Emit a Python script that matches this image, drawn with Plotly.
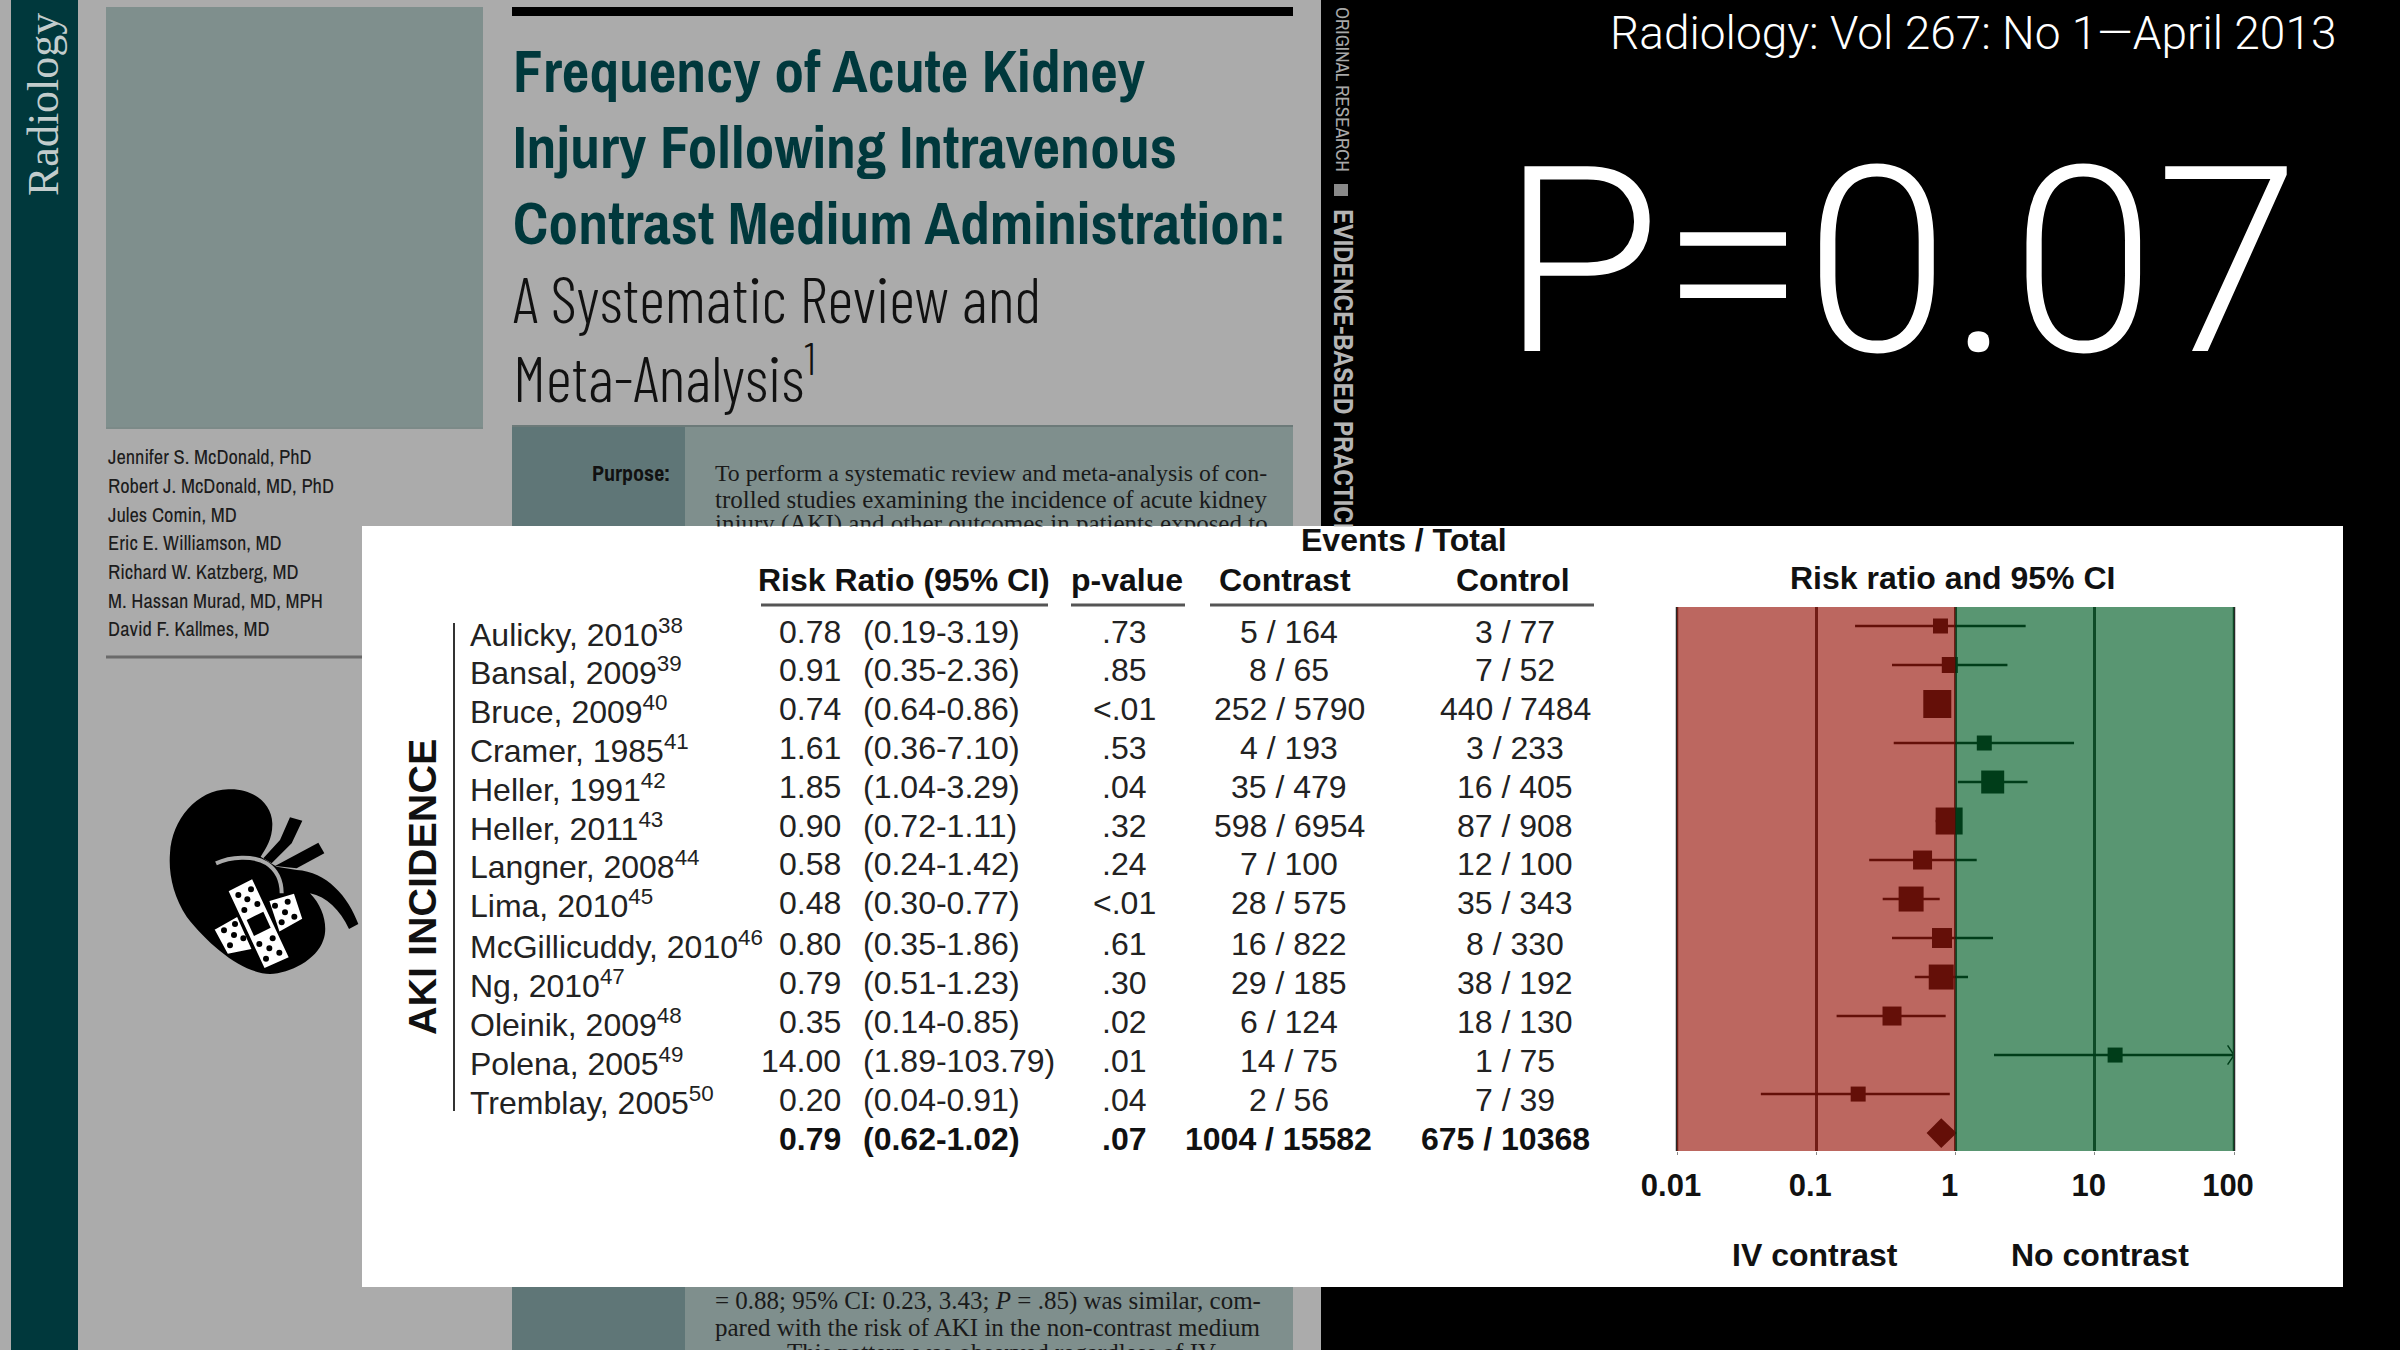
import plotly.graph_objects as go

# ---------- data ----------
studies = ["Aulicky, 2010", "Bansal, 2009", "Bruce, 2009", "Cramer, 1985", "Heller, 1991", "Heller, 2011",
           "Langner, 2008", "Lima, 2010", "McGillicuddy, 2010", "Ng, 2010", "Oleinik, 2009", "Polena, 2005",
           "Tremblay, 2005"]
refs = [38, 39, 40, 41, 42, 43, 44, 45, 46, 47, 48, 49, 50]
rr = [0.78, 0.91, 0.74, 1.61, 1.85, 0.90, 0.58, 0.48, 0.80, 0.79, 0.35, 14.00, 0.20]
ci_low = [0.19, 0.35, 0.64, 0.36, 1.04, 0.72, 0.24, 0.30, 0.35, 0.51, 0.14, 1.89, 0.04]
ci_high = [3.19, 2.36, 0.86, 7.10, 3.29, 1.11, 1.42, 0.77, 1.86, 1.23, 0.85, 103.79, 0.91]
p_values = [".73", ".85", "<.01", ".53", ".04", ".32", ".24", "<.01", ".61", ".30", ".02", ".01", ".04"]
contrast_events = ["5 / 164", "8 / 65", "252 / 5790", "4 / 193", "35 / 479", "598 / 6954", "7 / 100", "28 / 575",
                   "16 / 822", "29 / 185", "6 / 124", "14 / 75", "2 / 56"]
control_events = ["3 / 77", "7 / 52", "440 / 7484", "3 / 233", "16 / 405", "87 / 908", "12 / 100", "35 / 343",
                  "8 / 330", "38 / 192", "18 / 130", "1 / 75", "7 / 39"]
study_weight = [15, 16, 28, 15, 23, 27, 19, 25, 20, 25, 19, 15, 15]
pooled_rr = 0.79
pooled_low = 0.62
pooled_high = 1.02
pooled_p = ".07"
pooled_contrast = "1004 / 15582"
pooled_control = "675 / 10368"
axis_ticks = [0.01, 0.1, 1, 10, 100]
axis_labels = ["0.01", "0.1", "1", "10", "100"]
title_bold = ["Frequency of Acute Kidney", "Injury Following Intravenous", "Contrast Medium Administration:"]
authors = ["Jennifer S. McDonald, PhD", "Robert J. McDonald, MD, PhD", "Jules Comin, MD", "Eric E. Williamson, MD",
           "Richard W. Katzberg, MD", "M. Hassan Murad, MD, MPH", "David F. Kallmes, MD"]

W, H = 2400, 1350
SANS, SERIF = "Liberation Sans", "Liberation Serif"
NARROW = "Archivo Narrow, Roboto Condensed, Liberation Sans"
THIN = "Barlow Condensed, Roboto Condensed, Liberation Sans"
fx = lambda x: x / W
fy = lambda y: 1 - y / H
shapes, notes = [], []


def rect(x0, y0, x1, y1, color):
    shapes.append(dict(type="rect", xref="paper", yref="paper", x0=fx(x0), x1=fx(x1), y0=fy(y1), y1=fy(y0),
                       fillcolor=color, line_width=0, layer="below"))


def hline(x0, x1, y, color, w=2):
    shapes.append(dict(type="line", xref="paper", yref="paper", x0=fx(x0), x1=fx(x1), y0=fy(y), y1=fy(y),
                       line=dict(color=color, width=w), layer="below"))


def note(x, y, text, size, color="#222222", family=SANS, anchor="center", angle=0, weight=None, **kw):
    font = dict(size=size, color=color, family=family)
    if weight:
        font["weight"] = weight
    notes.append(dict(x=fx(x), y=fy(y), xref="paper", yref="paper", text=text, showarrow=False, xanchor=anchor,
                      yanchor="middle", textangle=angle, font=font, **kw))


# ---------- journal page behind the table ----------
PAGE, TEAL, BLOCK, CELL = "#ababab", "#00383c", "#7f8f8d", "#5f7677"
rect(0, 0, 1321, H, PAGE)
rect(11, 0, 78, H, TEAL)
rect(106, 7, 483, 428, BLOCK)
rect(512, 7, 1293, 16, "#000000")
rect(512, 426, 1293, H, BLOCK)
rect(512, 426, 685, H, CELL)
hline(512, 1293, 426, "#6c7a79", 2)
hline(106, 483, 428, "#7c8a88", 2)
hline(106, 362, 657, "#6a6a6a", 3)
rect(1334, 184, 1348, 196, "#8a8a8a")

note(44, 105, "Radiology", 44, "#c2cccc", SERIF, angle=-90)
for i, t in enumerate(title_bold):
    note(511, 70.5 + 76 * i, "<b>%s</b>" % t, 59.7, TEAL, NARROW, "left")
note(511, 298, "A Systematic Review and", 64, "#111111", THIN, "left", weight=300)
note(511, 373, "Meta-Analysis<sup>1</sup>", 64, "#111111", THIN, "left", weight=300)
for i, t in enumerate(authors):
    note(106, 457 + 28.6 * i, t, 20.5, "#1c1c1c", NARROW, "left")
note(672, 473, "<b>Purpose:</b>", 22, "#111111", NARROW, "right")
note(713, 473, "To perform a systematic review and meta-analysis of con-", 23.8, "#1a1a1a", SERIF, "left")
note(713, 499, "trolled studies examining the incidence of acute kidney", 25, "#1a1a1a", SERIF, "left")
note(713, 524, "injury (AKI) and other outcomes in patients exposed to", 25, "#1a1a1a", SERIF, "left")
note(713, 1301, "= 0.88; 95% CI: 0.23, 3.43; <i>P</i> = .85) was similar, com-", 25, "#1a1a1a", SERIF, "left")
note(713, 1327, "pared with the risk of AKI in the non-contrast medium", 25, "#1a1a1a", SERIF, "left")
note(785, 1353, "This pattern was observed regardless of IV", 25, "#1a1a1a", SERIF, "left")
note(1343, 89, "ORIGINAL RESEARCH", 19, "#a8a8a8", NARROW, angle=90)
note(1344, 373, "<b>EVIDENCE-BASED PRACTICE</b>", 28, "#b4b4b4", NARROW, angle=90)
# the white panel hides the lower part of the text that runs into it
notes.append(dict(x=fx(700), y=fy(526), xref="paper", yref="paper", text=" ", showarrow=False, xanchor="left",
                  yanchor="top", width=680, height=60, bgcolor="#ffffff", borderpad=0))

# ---------- right-hand slide text ----------
note(2338, 33, "Radiology: Vol 267: No 1—April 2013", 46, "#ffffff", "Roboto Light, Roboto", "right")
note(1900, 262, "P=0.07", 260, "#ffffff", "Roboto Light, Roboto")

# ---------- white panel ----------
rect(362, 526, 2343, 1287, "#ffffff")

# ---------- kidney icon ----------
kx = lambda v: 140 + v / 3
ky = lambda v: 760 + v / 3


def kpath(cmds, close=True):
    out = []
    for c, pts in cmds:
        if c == "L":
            out.extend("L%.5f,%.5f" % (fx(kx(a)), fy(ky(b))) for a, b in pts)
        else:
            out.append(c + " ".join("%.5f,%.5f" % (fx(kx(a)), fy(ky(b))) for a, b in pts))
    return " ".join(out) + (" Z" if close else "")


def kshape(cmds, fill="#000000", line=None, w=0, close=True):
    s = dict(type="path", xref="paper", yref="paper", path=kpath(cmds, close), layer="below",
             line=dict(width=w, color=line or fill))
    if close:
        s["fillcolor"] = fill
    shapes.append(s)


kshape([("M", [(265, 88)]), ("C", [(340, 85), (395, 130), (397, 190)]), ("C", [(398, 235), (378, 265), (362, 290)]),
        ("L", [(410, 320), (470, 330)]), ("C", [(560, 335), (625, 410), (655, 492)]), ("L", [(627, 507)]),
        ("C", [(600, 450), (560, 410), (510, 400)]), ("C", [(550, 440), (565, 500), (550, 540)]),
        ("C", [(530, 600), (450, 640), (390, 642)]), ("C", [(310, 640), (210, 560), (140, 470)]),
        ("C", [(100, 410), (85, 340), (90, 280)]), ("C", [(95, 180), (170, 90), (265, 88)])])
kshape([("M", [(450, 172)]), ("L", [(487, 182), (455, 250), (395, 310), (370, 295), (420, 240)])])
kshape([("M", [(535, 248)]), ("L", [(553, 280), (470, 325), (405, 318)])])
kshape([("M", [(228, 310)]), ("C", [(270, 290), (340, 285), (380, 310)]), ("C", [(410, 330), (425, 360), (425, 400)])],
       fill=PAGE, line=PAGE, w=4, close=False)
for poly in ([(228, 510), (290, 475), (330, 565), (265, 578)], [(392, 425), (460, 405), (483, 475), (420, 510)],
             [(270, 395), (335, 362), (442, 590), (375, 620)]):
    kshape([("M", [poly[0]]), ("L", poly[1:])], fill="#ffffff", line="#ffffff", w=2)
kshape([("M", [(320, 480)]), ("L", [(370, 455), (392, 503), (342, 528)])])
dots = [(295, 405), (333, 388), (322, 418), (352, 432), (313, 450), (398, 535), (358, 552), (388, 565), (418, 578),
        (378, 596), (252, 511), (282, 525), (270, 556), (285, 492), (310, 535), (443, 425), (405, 437), (435, 457),
        (463, 470), (425, 487)]
for a, b in dots:
    shapes.append(dict(type="circle", xref="paper", yref="paper", x0=fx(kx(a - 9)), x1=fx(kx(a + 9)),
                       y0=fy(ky(b + 9)), y1=fy(ky(b - 9)), fillcolor="#000000", line_width=0, layer="below"))

# ---------- table ----------
note(422, 887, "<b>AKI INCIDENCE</b>", 39.5, "#111111", angle=-90)
shapes.append(dict(type="line", xref="paper", yref="paper", x0=fx(454), x1=fx(454), y0=fy(623), y1=fy(1111),
                   line=dict(color="#333333", width=2), layer="below"))
HEAD = 32
note(904, 580, "<b>Risk Ratio (95% CI)</b>", HEAD, "#111111")
note(1127, 580, "<b>p-value</b>", HEAD, "#111111")
note(1285, 580, "<b>Contrast</b>", HEAD, "#111111")
note(1513, 580, "<b>Control</b>", HEAD, "#111111")
note(1404, 540, "<b>Events / Total</b>", HEAD, "#111111")
hline(761, 1048, 605, "#555555", 3)
hline(1071, 1185, 605, "#555555", 3)
hline(1210, 1594, 605, "#555555", 3)

row_y = lambda i: 631.5 + 38.8 * i if i < 8 else 944 + 39 * (i - 8)
CELLSZ = 32
for i, s in enumerate(studies):
    y = row_y(i)
    note(468, y + 1, "%s<sup>%d</sup>" % (s, refs[i]), CELLSZ, "#222222", SANS, "left")
    note(843, y, "%.2f" % rr[i], CELLSZ, "#222222", SANS, "right")
    note(861, y, "(%.2f-%.2f)" % (ci_low[i], ci_high[i]), CELLSZ, "#222222", SANS, "left")
    note(1124, y, p_values[i], CELLSZ)
    note(1289, y, contrast_events[i], CELLSZ)
    note(1515, y, control_events[i], CELLSZ)
y = row_y(13)
note(843, y, "<b>%.2f</b>" % pooled_rr, CELLSZ, "#111111", SANS, "right")
note(861, y, "<b>(%.2f-%.2f)</b>" % (pooled_low, pooled_high), CELLSZ, "#111111", SANS, "left")
note(1124, y, "<b>%s</b>" % pooled_p, CELLSZ, "#111111")
note(1278, y, "<b>%s</b>" % pooled_contrast, CELLSZ, "#111111")
note(1506, y, "<b>%s</b>" % pooled_control, CELLSZ, "#111111")

# ---------- forest plot titles ----------
note(1952, 578, "<b>Risk ratio and 95% CI</b>", 32, "#111111")
note(1815, 1255, "<b>IV contrast</b>", 32, "#111111")
note(2100, 1255, "<b>No contrast</b>", 32, "#111111")

# ---------- forest plot marks: black, tinted by the translucent bands drawn above them ----------
rows = list(range(len(studies)))
fig = go.Figure()
fig.add_trace(go.Scatter(
    x=rr, y=rows, mode="markers", showlegend=False, hoverinfo="skip",
    marker=dict(symbol="square", size=study_weight, color="#000000", opacity=1, line_width=0),
    error_x=dict(type="data", symmetric=False, array=[u - m for u, m in zip(ci_high, rr)],
                 arrayminus=[m - l for m, l in zip(rr, ci_low)], color="#000000", thickness=2.5, width=0)))
fig.add_trace(go.Scatter(
    x=[pooled_low, pooled_rr, pooled_high, pooled_rr, pooled_low],
    y=[13, 13 - 0.38, 13, 13 + 0.38, 13], mode="lines", fill="toself", fillcolor="#000000",
    line=dict(color="#000000", width=0), showlegend=False, hoverinfo="skip"))
over = [i for i, u in enumerate(ci_high) if u > axis_ticks[-1]]
fig.add_trace(go.Scatter(
    x=[axis_ticks[-1] for _ in over], y=[rows[i] for i in over], mode="markers", showlegend=False, hoverinfo="skip",
    marker=dict(symbol="y-right", size=16, color="#000000", line=dict(color="#000000", width=1.5))))

for edge in (0, 1):
    shapes.append(dict(type="line", xref="x domain", yref="y domain", x0=edge, x1=edge, y0=0, y1=1,
                       line=dict(color="#282828", width=2.5), layer="above"))
shapes.append(dict(type="rect", xref="x domain", yref="y domain", x0=0, x1=0.5, y0=0, y1=1,
                   fillcolor="rgb(153,23,12)", opacity=0.655, line_width=0, layer="above"))
shapes.append(dict(type="rect", xref="x domain", yref="y domain", x0=0.5, x1=1, y0=0, y1=1,
                   fillcolor="rgb(0,93,39)", opacity=0.65, line_width=0, layer="above"))

fig.update_layout(
    width=W, height=H, autosize=False, margin=dict(l=0, r=0, t=0, b=0, autoexpand=False), paper_bgcolor="#000000",
    plot_bgcolor="#ffffff", shapes=shapes, annotations=notes, showlegend=False,
    xaxis=dict(type="log", domain=[1677 / W, 2234 / W], range=[-2, 2], tickmode="array", tickvals=axis_ticks,
               ticktext=["<b>%s</b>" % t for t in axis_labels], tickfont=dict(family=SANS, size=31, color="#111111"),
               showgrid=True, gridcolor="#282828", gridwidth=2.5, zeroline=False, showline=False, ticks="outside",
               ticklen=3, tickcolor="#888888", ticklabelshift=-6, ticklabelstandoff=4),
    yaxis=dict(domain=[1 - 1151 / H, 1 - 607 / H], range=[13.46, -0.487], showgrid=False, zeroline=False,
               showticklabels=False, showline=False, ticks=""),
)
fig.write_html("out.html", config=dict(displayModeBar=False),
               post_script="document.body.style.margin='0';document.body.style.overflow='hidden';")
